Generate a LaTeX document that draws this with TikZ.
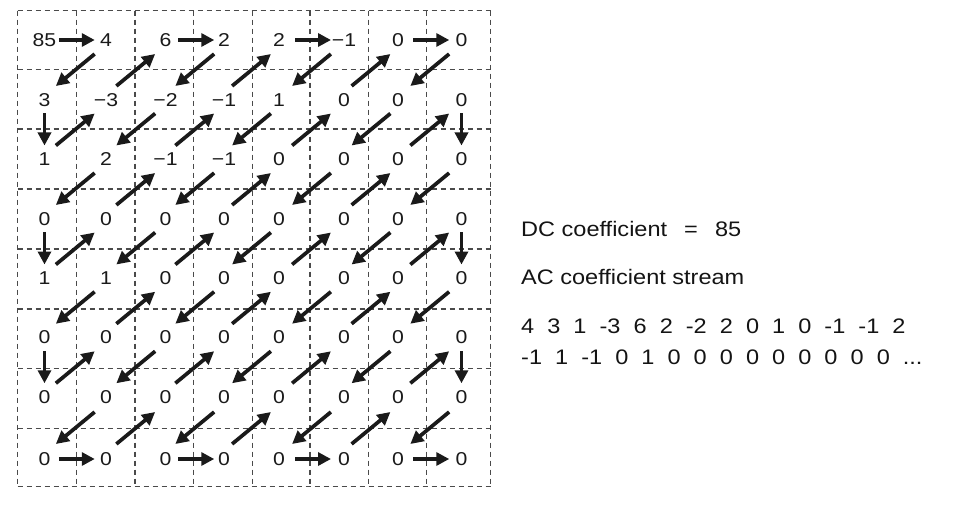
\documentclass[tikz,border=0pt]{standalone}
\usepackage{fontspec}
\setmainfont{Liberation Sans}
\newfontfamily\gridfont[FakeStretch=1.14]{Liberation Sans}
\newfontfamily\txtfont[FakeStretch=1.12]{Liberation Sans}
\usetikzlibrary{arrows.meta,calc}
\definecolor{ink}{HTML}{1A1A1A}
\definecolor{gridgray}{HTML}{4A4A4A}
\newcommand\dsp{\ \ }
\begin{document}
\begin{tikzpicture}[x=1pt,y=-1pt,
  num/.style={font=\gridfont\fontsize{18.6}{20}\selectfont, text=ink, inner sep=0pt, text depth=0pt, anchor=center},
  arr/.style={line width=3.7pt, draw=ink, -{Triangle[length=13pt,width=13pt]}},
  gline/.style={draw=gridgray, line width=1.1pt, dash pattern=on 5.5pt off 3.5pt},
  txt/.style={font=\txtfont\fontsize{21}{24}\selectfont, text=black!92, inner sep=0pt, anchor=base west}]
\useasboundingbox (0,0) rectangle (954,508);
\fill[white] (0,0) rectangle (954,508);
% grid
\foreach \x in {17.5,76.7,135,193.3,252.3,310,368.3,426.7,490.5}
  \draw[gline] (\x,10.7) -- (\x,486.7);
\foreach \y in {10.7,69.7,129,189,249,309,368.3,428.3,486.7}
  \draw[gline] (17.5,\y) -- (490.5,\y);
% numbers
\def\xs{{44.5,106,165.5,224,279,344,398,461.5}}
\def\ys{{40,100,159,219,278,337.5,397,459}}
\foreach \rowvals [count=\r from 0] in {
  {85,4,6,2,2,−1,0,0},
  {3,−3,−2,−1,1,0,0,0},
  {1,2,−1,−1,0,0,0,0},
  {0,0,0,0,0,0,0,0},
  {1,1,0,0,0,0,0,0},
  {0,0,0,0,0,0,0,0},
  {0,0,0,0,0,0,0,0},
  {0,0,0,0,0,0,0,0}}{
  \foreach \v [count=\c from 0] in \rowvals {
    \pgfmathsetmacro\px{\xs[\c]}
    \pgfmathsetmacro\py{\ys[\r]}
    \node[num] (n-\r-\c) at (\px,\py) {\v};
  }
}
% diagonal arrows
\foreach \r in {0,...,6}{
  \foreach \c in {1,...,7}{
    \pgfmathtruncatemacro\s{mod(\r+\c,2)}
    \pgfmathtruncatemacro\rr{\r+1}
    \pgfmathtruncatemacro\cc{\c-1}
    \ifnum\s=1
      \draw[arr] ($(n-\r-\c)!0.5!(n-\rr-\cc)+(19.4,-16)$) -- ($(n-\r-\c)!0.5!(n-\rr-\cc)+(-19.4,16)$);
    \else
      \draw[arr] ($(n-\r-\c)!0.5!(n-\rr-\cc)+(-19.4,16)$) -- ($(n-\r-\c)!0.5!(n-\rr-\cc)+(19.4,-16)$);
    \fi
  }
}
% horizontal arrows
\foreach \r/\c in {0/0,0/2,0/4,0/6,7/0,7/2,7/4,7/6}{
  \pgfmathtruncatemacro\cc{\c+1}
  \draw[arr] ($(n-\r-\c)!0.5!(n-\r-\cc)+(-16.5,0)$) -- ($(n-\r-\c)!0.5!(n-\r-\cc)+(19.5,0)$);
}
% vertical arrows
\foreach \r/\c in {1/0,3/0,5/0,1/7,3/7,5/7}{
  \pgfmathtruncatemacro\rr{\r+1}
  \draw[arr] ($(n-\r-\c)!0.5!(n-\rr-\c)+(0,-16)$) -- ($(n-\r-\c)!0.5!(n-\rr-\c)+(0,16)$);
}
% text
\node[txt] (dc) at (521,236.5) {DC coefficient\dsp\hspace{4pt}=\dsp\hspace{4pt}85};
\node[txt] (ac) at (521,284) {AC coefficient stream};
\node[txt] (s1) at (521,333) {4\dsp 3\dsp 1\dsp -3\dsp 6\dsp 2\dsp -2\dsp 2\dsp 0\dsp 1\dsp 0\dsp -1\dsp -1\dsp 2};
\node[txt] (s2) at (521,364) {-1\dsp 1\dsp -1\dsp 0\dsp 1\dsp 0\dsp 0\dsp 0\dsp 0\dsp 0\dsp 0\dsp 0\dsp 0\dsp 0\dsp ...};
\end{tikzpicture}
\end{document}
